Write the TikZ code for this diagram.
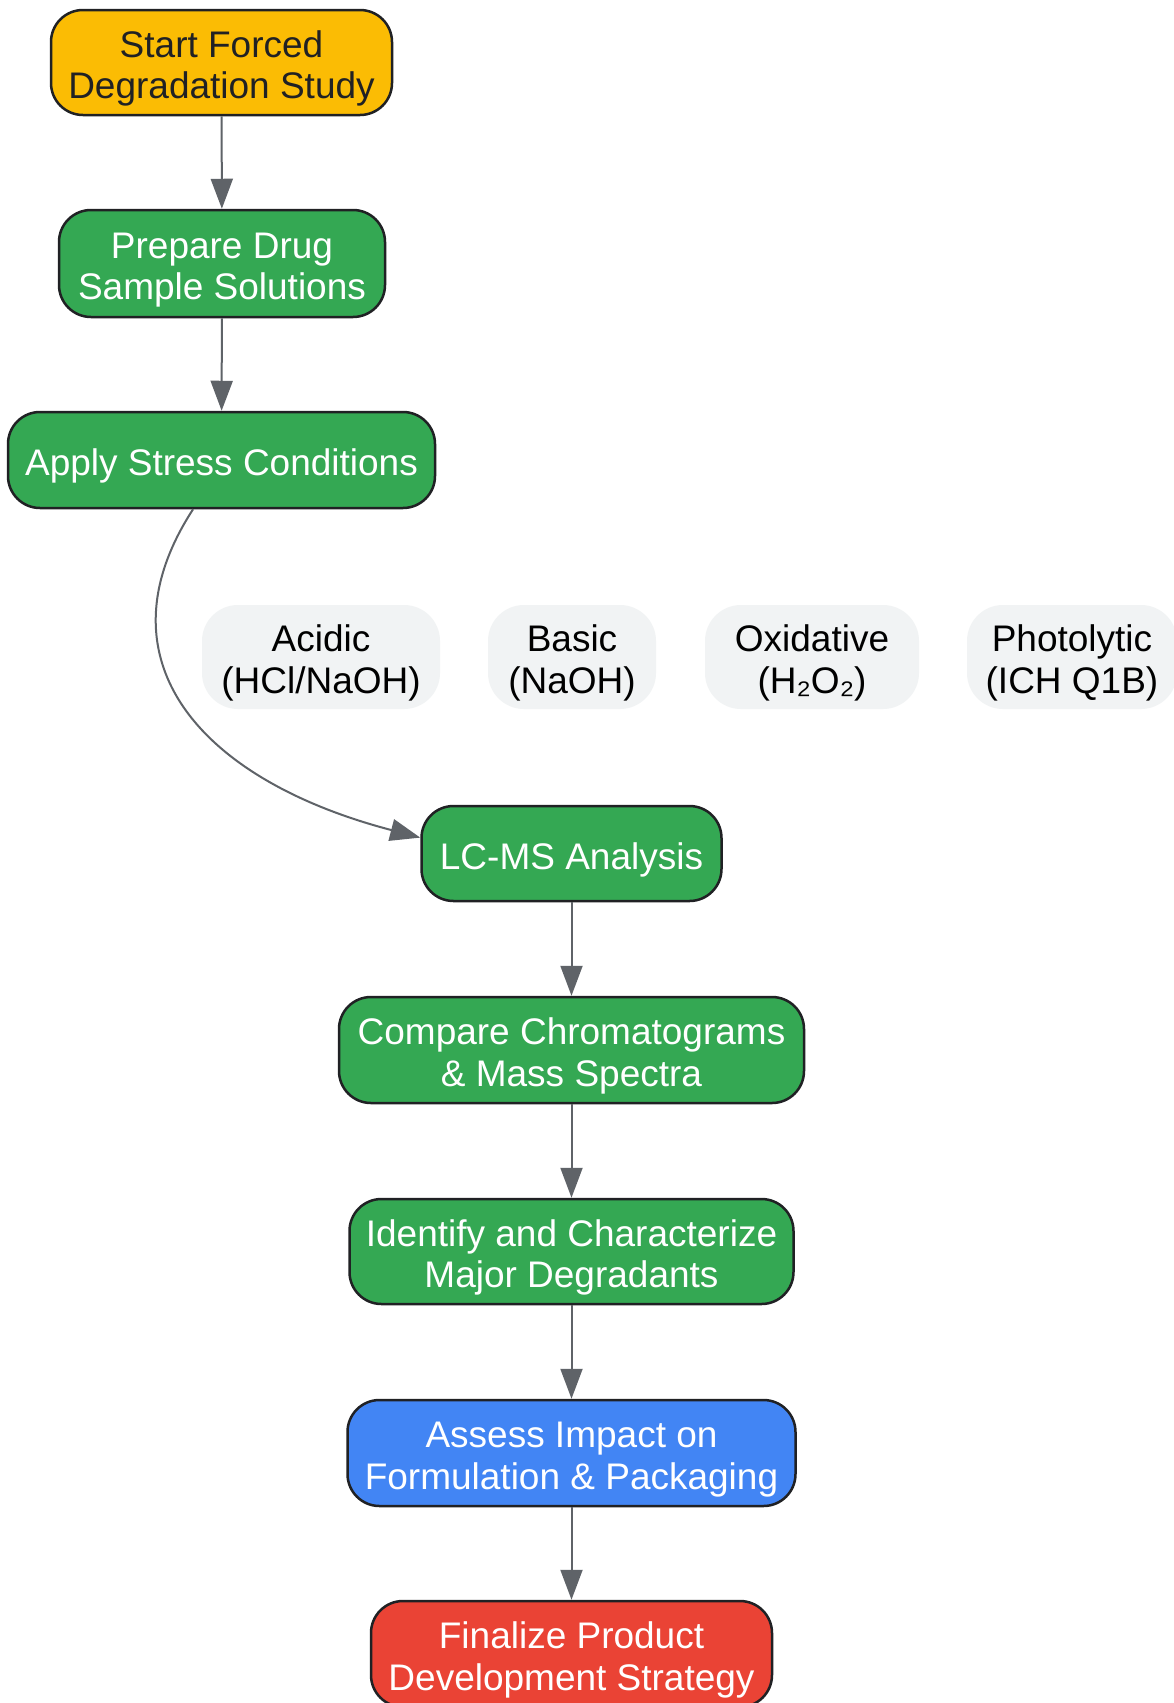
\documentclass[tikz,border=0pt]{standalone}
\usepackage{fontspec}
\setmainfont{Liberation Sans}
\usetikzlibrary{arrows.meta}
\definecolor{cyellow}{HTML}{FBBC04}
\definecolor{cgreen}{HTML}{34A853}
\definecolor{cblue}{HTML}{4285F4}
\definecolor{cred}{HTML}{EA4335}
\definecolor{cgray}{HTML}{F1F3F4}
\definecolor{cedge}{HTML}{5F6368}
\definecolor{cborder}{HTML}{202124}
\newcommand\toppad{\rule{0pt}{39pt}}
\tikzset{
  base/.style={rectangle, rounded corners=32pt, align=center, inner sep=0pt,
    font=\fontsize{37}{41.5}\selectfont},
  proc/.style={base, draw=cborder, line width=2.5pt, text=white, fill=cgreen},
  startbox/.style={base, draw=cborder, line width=2.5pt, text=cborder, fill=cyellow},
  assessbox/.style={base, draw=cborder, line width=2.5pt, text=white, fill=cblue},
  endbox/.style={base, draw=cborder, line width=2.5pt, text=white, fill=cred},
  condbox/.style={base, fill=cgray, text=black, rounded corners=36pt},
  flow/.style={draw=cedge, line width=2pt, -{Triangle[length=30pt,width=22pt]}}
}
\begin{document}
\begin{tikzpicture}[x=1pt,y=-1pt]
\useasboundingbox (0,0) rectangle (1174,1703);
\fill[white] (0,0) rectangle (1174,1703);

\node[startbox, minimum width=341pt, minimum height=105pt] (start) at (221.5,62.5) {\toppad Start Forced\\Degradation Study};
\node[proc, minimum width=326pt, minimum height=107pt] (prep) at (222,263.5) {\toppad Prepare Drug\\Sample Solutions};
\node[proc, minimum width=427pt, minimum height=96pt] (apply) at (221.5,460) {\toppad Apply Stress Conditions};

\node[condbox, minimum width=238pt, minimum height=104pt] (acid) at (321,657) {\toppad Acidic\\(HCl/NaOH)};
\node[condbox, minimum width=168pt, minimum height=104pt] (basic) at (572,657) {\toppad Basic\\(NaOH)};
\node[condbox, minimum width=214pt, minimum height=104pt] (oxid) at (812,657) {\toppad Oxidative\\(H₂O₂)};
\node[condbox, minimum width=210pt, minimum height=104pt] (photo) at (1072,657) {\toppad Photolytic\\(ICH Q1B)};

\node[proc, minimum width=300pt, minimum height=95pt] (lcms) at (571.5,853.5) {\toppad LC-MS Analysis};
\node[proc, minimum width=465pt, minimum height=106pt] (comp) at (571.5,1050) {\toppad Compare Chromatograms\\\& Mass Spectra};
\node[proc, minimum width=444pt, minimum height=105pt] (ident) at (571.5,1251.5) {\toppad Identify and Characterize\\Major Degradants};
\node[assessbox, minimum width=448pt, minimum height=106pt] (assess) at (571.5,1453) {\toppad Assess Impact on\\Formulation \& Packaging};
\node[endbox, minimum width=401pt, minimum height=106pt] (final) at (571.5,1654) {\toppad Finalize Product\\Development Strategy};

\draw[flow] (start) -- (prep);
\draw[flow] (prep) -- (apply);
\draw[flow] (apply.240) .. controls (95,660) and (200,780) .. (lcms.174);
\draw[flow] (lcms) -- (comp);
\draw[flow] (comp) -- (ident);
\draw[flow] (ident) -- (assess);
\draw[flow] (assess) -- (final);
\end{tikzpicture}
\end{document}
